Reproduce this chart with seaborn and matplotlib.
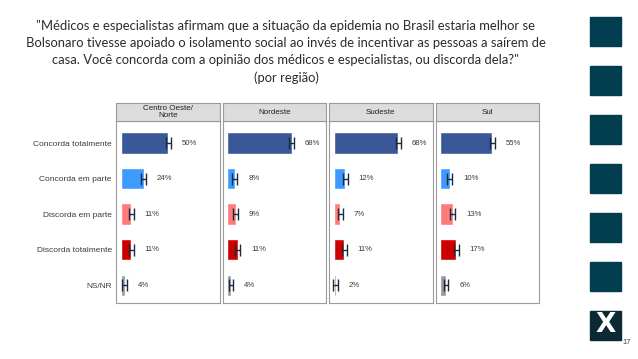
import matplotlib
matplotlib.use("Agg")
import matplotlib.pyplot as plt
import matplotlib.patches as mpatches
import pandas as pd
import seaborn as sns

# Data
categories = ['Concorda totalmente', 'Concorda em parte', 'Discorda em parte',
              'Discorda totalmente', 'NS/NR']
regions = ['Centro Oeste/\nNorte', 'Nordeste', 'Sudeste', 'Sul']
centro_oeste_norte = [50, 24, 11, 11, 4]
nordeste = [68, 8, 9, 11, 4]
sudeste = [68, 12, 7, 11, 2]
sul = [55, 10, 13, 17, 6]
error_margin = 2.5

colors = ['#3A5897', '#3D9BFF', '#FF7B7B', '#CC0000', '#999999']
title = ('"Médicos e especialistas afirmam que a situação da epidemia no Brasil estaria melhor se\n'
         'Bolsonaro tivesse apoiado o isolamento social ao invés de incentivar as pessoas a saírem de\n'
         'casa. Você concorda com a opinião dos médicos e especialistas, ou discorda dela?"\n'
         '(por região)')

W, H = 638, 359


def px_box(x0, y0, x1, y1):
    # pixel box (top-left origin) -> figure fraction rect
    return [x0 / W, 1 - y1 / H, (x1 - x0) / W, (y1 - y0) / H]


sns.set_style('white')
plt.rcParams['font.family'] = ['Liberation Sans', 'DejaVu Sans']

fig = plt.figure(figsize=(W / 100, H / 100), dpi=100)
fig.patch.set_facecolor('white')

fig.text(286 / W, 1 - 20 / H, title, ha='center', va='top', fontsize=9.4,
         family=['Lato', 'DejaVu Sans'], color='#2b2b2b', linespacing=1.5)

all_values = [centro_oeste_norte, nordeste, sudeste, sul]
lefts = [116, 222.5, 329, 435.5]

for i, (region, vals) in enumerate(zip(regions, all_values)):
    x0 = lefts[i]
    x1 = x0 + 103.5
    df = pd.DataFrame({'categoria': categories, 'valor': vals})

    ax = fig.add_axes(px_box(x0, 121, x1, 303))
    sns.barplot(data=df, x='valor', y='categoria', hue='categoria', palette=colors,
                orient='h', width=0.6, legend=False, ax=ax, saturation=1)
    ax.errorbar(df['valor'], range(len(categories)), xerr=error_margin, fmt='none',
                ecolor='#1a2a40', elinewidth=1.0, capsize=4, capthick=1.0)
    for y, v in enumerate(vals):
        ax.text(v + 14, y, f'{v}%', va='center', ha='left', fontsize=5.6, color='#3a3a3a')
    ax.set_xlim(-5, 104)
    ax.set_ylim(4.5, -0.62)
    ax.set_xticks([])
    ax.set_xlabel('')
    ax.set_ylabel('')
    if i == 0:
        ax.tick_params(axis='y', length=0, labelsize=6.0, labelcolor='#3a3a3a', pad=3)
    else:
        ax.set_yticks([])
    for s in ax.spines.values():
        s.set_visible(True)
        s.set_color('#9a9a9a')
        s.set_linewidth(0.8)

    strip = fig.add_axes(px_box(x0, 103, x1, 121))
    strip.set_facecolor('#DCDCDC')
    strip.set_xticks([])
    strip.set_yticks([])
    for s in strip.spines.values():
        s.set_color('#9a9a9a')
        s.set_linewidth(0.8)
    strip.text(0.5, 0.5, region, ha='center', va='center', fontsize=5.8,
               color='#222222', linespacing=1.0, transform=strip.transAxes)

# decoration on the right side
for k in range(6):
    y0 = 17 + k * 49
    fig.patches.append(mpatches.Rectangle((590 / W, 1 - (y0 + 29) / H), 31 / W, 29 / H,
                                          transform=fig.transFigure, color='#023D4F'))
fig.patches.append(mpatches.Rectangle((590 / W, 1 - 340 / H), 31 / W, 29 / H,
                                      transform=fig.transFigure, color='#0c2a33'))
fig.text(605.5 / W, 1 - 325.5 / H, 'X', ha='center', va='center', fontsize=19,
         fontweight='bold', color='white', family=['DejaVu Sans'])
fig.text(627 / W, 1 - 343 / H, '17', ha='center', va='center', fontsize=5.5, color='#444444')

fig.savefig('out.png', dpi=100, facecolor='white')
